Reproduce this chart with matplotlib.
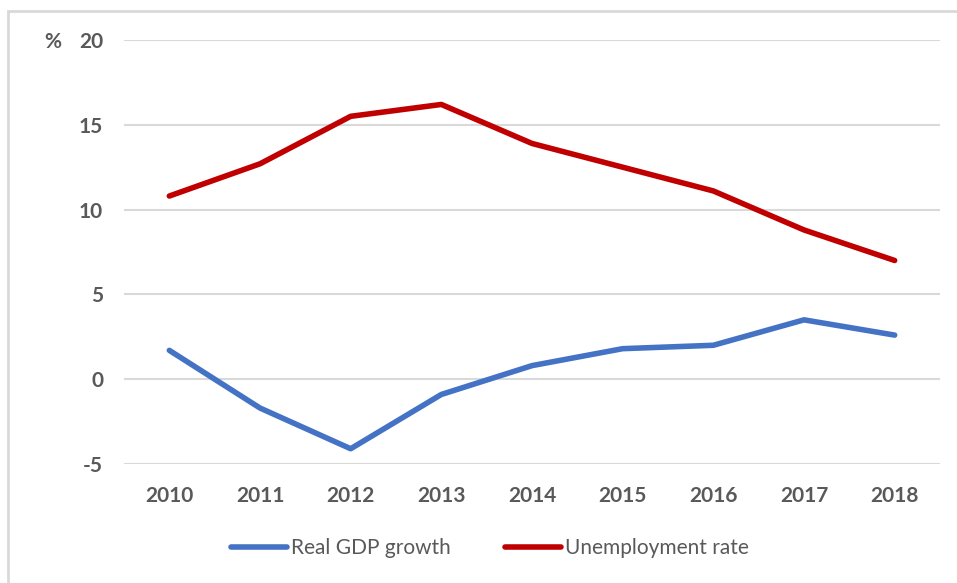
import matplotlib.pyplot as plt
from matplotlib.patches import Rectangle

years = ["2010", "2011", "2012", "2013", "2014", "2015", "2016", "2017", "2018"]
gdp_growth = [1.7, -1.7, -4.1, -0.9, 0.8, 1.8, 2.0, 3.5, 2.6]
unemployment = [10.8, 12.7, 15.5, 16.2, 13.9, 12.5, 11.1, 8.8, 7.0]
y_ticks = [-5, 0, 5, 10, 15, 20]

BLUE = "#4472C4"
RED = "#C00000"
GREY_TEXT = "#595959"
GRID = "#D9D9D9"

plt.rcParams["font.family"] = ["Lato", "DejaVu Sans"]

fig = plt.figure(figsize=(9.57, 5.83), dpi=100)
ax = fig.add_axes([124 / 957, 1 - 464 / 583, 816 / 957, 424 / 583])

x = list(range(len(years)))
ax.plot(x, gdp_growth, color=BLUE, lw=4, solid_capstyle="round",
        solid_joinstyle="round", label="Real GDP growth")
ax.plot(x, unemployment, color=RED, lw=4, solid_capstyle="round",
        solid_joinstyle="round", label="Unemployment rate")

ax.set_xlim(-0.5, len(years) - 0.5)
ax.set_ylim(-5, 20)
ax.set_xticks(x)
ax.set_xticklabels(years)
ax.set_yticks(y_ticks)
ax.set_yticklabels([str(v) for v in y_ticks])

for v in y_ticks:
    ax.axhline(v, color=GRID, lw=1.5, zorder=0)

for s in ax.spines.values():
    s.set_visible(False)
ax.tick_params(length=0, labelcolor=GREY_TEXT, labelsize=15)
ax.tick_params(axis="x", pad=16)
ax.tick_params(axis="y", pad=15)
for lbl in ax.get_xticklabels() + ax.get_yticklabels():
    lbl.set_fontweight("bold")

fig.text(44 / 957, 1 - 42 / 583, "%", color=GREY_TEXT, fontsize=15,
         fontweight="bold", ha="left", va="center")

leg = fig.legend(loc="center", bbox_to_anchor=(490 / 957, 1 - 548 / 583),
                 ncol=2, frameon=False, fontsize=15, handlelength=2.7,
                 handletextpad=0.2, columnspacing=2.6)
for t in leg.get_texts():
    t.set_color(GREY_TEXT)

# thin frame around the chart area
fig.patches.append(Rectangle((8 / 957, -0.05), 1.0, 1 - 11 / 583 + 0.05,
                             transform=fig.transFigure, fill=False,
                             edgecolor=GRID, lw=2, zorder=0))

fig.savefig("out.png", dpi=100)
